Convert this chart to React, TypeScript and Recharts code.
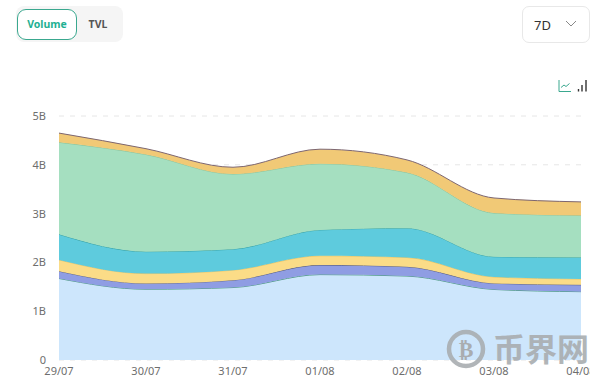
import React from "react";
import { AreaChart, Area, XAxis, YAxis, CartesianGrid } from "recharts";

const dates = ["29/07", "30/07", "31/07", "01/08", "02/08", "03/08", "04/08"];
const seriesA = [1.67, 1.45, 1.485, 1.75, 1.72, 1.445, 1.4];
const seriesB = [0.15, 0.12, 0.15, 0.195, 0.19, 0.125, 0.14];
const seriesC = [0.23, 0.2, 0.205, 0.19, 0.19, 0.13, 0.12];
const seriesD = [0.525, 0.45, 0.43, 0.53, 0.6, 0.415, 0.44];
const seriesE = [1.885, 1.99, 1.54, 1.355, 1.14, 0.895, 0.86];
const seriesF = [0.19, 0.12, 0.14, 0.3, 0.26, 0.31, 0.28];
const yTicks = [0, 1, 2, 3, 4, 5];

const rows = dates.map((d, i) => ({
  d,
  a: seriesA[i],
  b: seriesB[i],
  c: seriesC[i],
  e: seriesD[i],
  f: seriesE[i],
  g: seriesF[i],
}));

const layers = [
  { k: "a", fill: "#cde6fc", stroke: "#4f9e83" },
  { k: "b", fill: "#8f9de3", stroke: "#5a5f80" },
  { k: "c", fill: "#fbdc87", stroke: "#e8c66a" },
  { k: "e", fill: "#5ecbdd", stroke: "#3aa5a8" },
  { k: "f", fill: "#a5dfc0", stroke: "#8cc6a0" },
  { k: "g", fill: "#f1c976", stroke: "#7d6670" },
];

const font = "'Noto Sans', sans-serif";

export default function App() {
  return (
    <div style={{ position: "absolute", left: 0, top: 0, width: 600, height: 385, background: "#fff", overflow: "hidden", fontFamily: font }}>
      <div style={{ position: "absolute", left: 16, top: 6, width: 107, height: 36, background: "#f5f5f5", borderRadius: 8 }} />
      <div style={{ position: "absolute", left: 17, top: 9, width: 60, height: 31, boxSizing: "border-box", background: "#fff", border: "1px solid #3aa88f", borderRadius: 9, color: "#1fb092", fontSize: 10.5, fontWeight: 700, textAlign: "center", lineHeight: "29px" }}>Volume</div>
      <div style={{ position: "absolute", left: 78, top: 9, width: 40, height: 31, color: "#555", fontSize: 10.5, fontWeight: 700, textAlign: "center", lineHeight: "31px" }}>TVL</div>
      <div style={{ position: "absolute", left: 522, top: 6, width: 68, height: 37, boxSizing: "border-box", border: "1px solid #e8e8e8", borderRadius: 7, color: "#333", fontSize: 13, lineHeight: "36px", paddingLeft: 11 }}>7D</div>
      <svg style={{ position: "absolute", left: 564, top: 18, width: 14, height: 12 }} viewBox="0 0 14 12">
        <path d="M2 3 L7 8 L12 3" fill="none" stroke="#888" strokeWidth="1" />
      </svg>
      <svg style={{ position: "absolute", left: 556, top: 78, width: 34, height: 16 }} viewBox="0 0 34 16">
        <path d="M3 2 V13.5 H15" fill="none" stroke="#3aa88f" strokeWidth="1" />
        <path d="M5 9.5 L8 7 L10 8.5 L13.5 5.5" fill="none" stroke="#3aa88f" strokeWidth="1" />
        <path d="M22.5 11 V13.5 M26 7 V13.5 M30 2 V13.5" fill="none" stroke="#333" strokeWidth="1.4" />
      </svg>
      <div style={{ position: "absolute", left: 0, top: 0, width: 590, height: 385, overflow: "hidden" }}>
        <AreaChart width={590} height={385} data={rows} margin={{ top: 116, right: 9, bottom: 0, left: 0 }}>
          <CartesianGrid horizontal vertical={false} stroke="#e6e6e6" strokeDasharray="5 6" />
          <XAxis dataKey="d" interval={0} axisLine={false} tickLine={false} tick={{ fontSize: 11, fill: "#6e6e6e", fontFamily: font }} tickMargin={1} height={25} scale="point" />
          <YAxis width={59} domain={[0, 5]} ticks={yTicks} axisLine={false} tickLine={false} tick={{ fontSize: 11, fill: "#6e6e6e", fontFamily: font }} tickMargin={7} tickFormatter={(v: number) => (v === 0 ? "0" : v + "B")} />
          {layers.map((l) => (
            <Area key={l.k} dataKey={l.k} stackId="s" type="monotone" fill={l.fill} fillOpacity={1} stroke={l.stroke} strokeWidth={1} dot={false} activeDot={false} isAnimationActive={false} />
          ))}
        </AreaChart>
      </div>
      <svg style={{ position: "absolute", left: 440, top: 326, width: 160, height: 46 }} viewBox="0 0 160 46">
        <circle cx="26" cy="23" r="17" fill="none" stroke="#a9adb0" strokeWidth="4.5" opacity="0.9" />
        <text x="26" y="31" textAnchor="middle" fontSize="22" fontWeight="700" fill="#a9adb0" fontFamily="'DejaVu Sans'">₿</text>
        <text x="53" y="35" fontSize="32" fontWeight="700" fill="#a9adb0" opacity="0.9" fontFamily="'Noto Sans CJK SC'">币界网</text>
      </svg>
    </div>
  );
}
